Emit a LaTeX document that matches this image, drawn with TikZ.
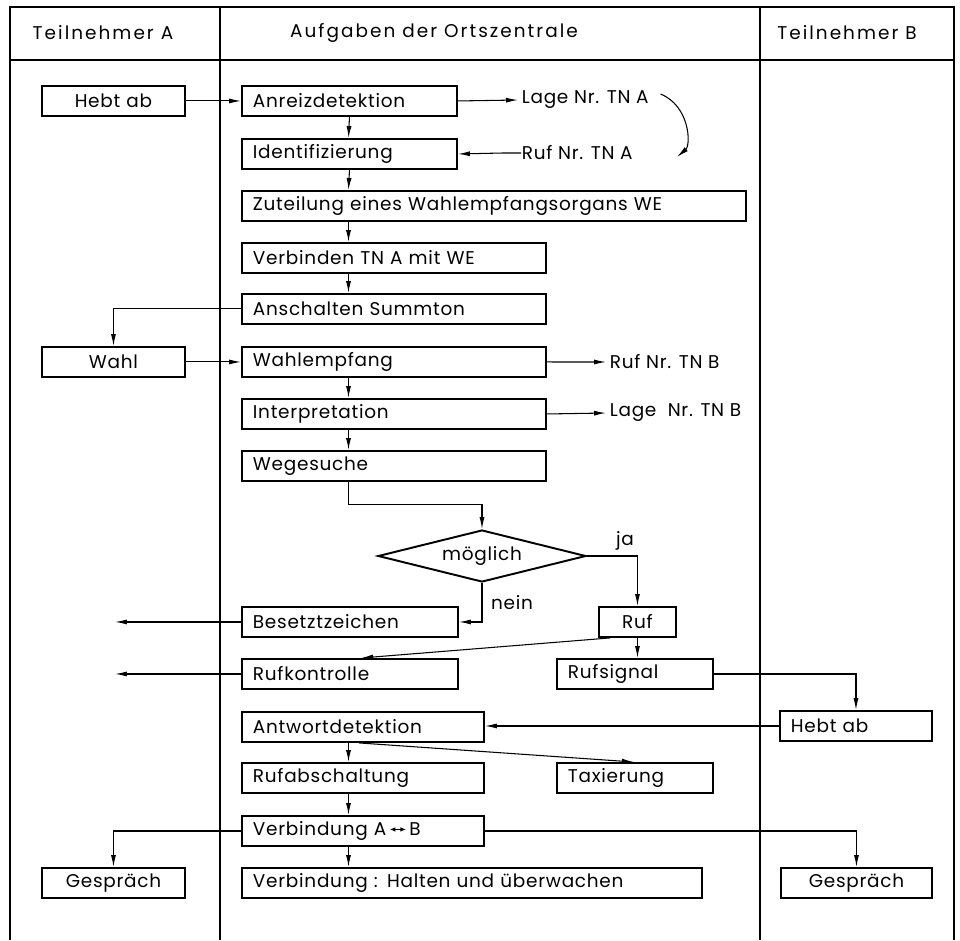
\documentclass[tikz,border=0pt]{standalone}
\usepackage{fontspec}
\setmainfont[LetterSpace=4]{Poppins}
\newfontfamily\headfont[LetterSpace=11]{Poppins}
\usetikzlibrary{arrows.meta,shapes.geometric}

\tikzset{
  box/.style={draw,line width=1.1pt,anchor=north west,minimum height=0.6cm,
    inner xsep=0.22cm,inner ysep=0pt,text width={#1*0.02cm-0.44cm},align=left},
  cbox/.style={box=#1,align=center},
  head/.style={font=\headfont\fontsize{10.5}{12}\selectfont},
  note/.style={anchor=west,inner sep=2pt},
  flow/.style={-{Latex[length=2.4mm,width=1mm]},line width=0.6pt},
  frame/.style={line width=0.9pt},
}
\newcommand{\twoway}{\,\tikz[baseline=-0.6ex]\draw[{Latex[length=1.1mm,width=0.9mm]}-{Latex[length=1.1mm,width=0.9mm]},line width=0.5pt] (0cm,0cm) -- (0.32cm,0cm);\,}

\begin{document}
\begin{tikzpicture}[x=0.02cm,y=-0.02cm,font=\fontsize{10.5}{12}\selectfont]
  \useasboundingbox (0,0) rectangle (960,940);

  % Frame and column heads
  \draw[frame] (10,940) -- (10,7) -- (954,7) -- (954,940);
  \draw[frame] (10,60) -- (954,60);
  \draw[frame] (220,7) -- (220,940);
  \draw[frame] (760,7) -- (760,940);
  \node[head] (hdA) at (103,33) {Teilnehmer A};
  \node[head] (hdZ) at (434,33) {Aufgaben der Ortszentrale};
  \node[head] (hdB) at (847,33) {Teilnehmer B};

  \coordinate (spine) at (348.5,0);
  \coordinate (outA) at (115,0);

  % Teilnehmer A hebt ab
  \node[cbox=143] (hebtA) at (41,85) {Hebt ab};
  \node[box=215] (anreiz) at (241,85) {Anreizdetektion};
  \node[box=215] (ident) at (241,138) {Identifizierung};
  \node[note] (lageA) at (518,100) {Lage Nr. TN A};
  \node[note] (rufA) at (518,153) {Ruf Nr. TN A};
  \node[box=504] (zuteil) at (241,190) {Zuteilung eines Wahlempfangsorgans WE};
  \node[box=304] (verbind) at (241,242) {Verbinden TN A mit WE};
  \node[box=304] (summton) at (241,293) {Anschalten Summton};

  % Wahl
  \node[cbox=143] (wahl) at (41,346) {Wahl};
  \node[box=304] (wahlempf) at (241,346) {Wahlempfang};
  \node[box=304] (interp) at (241,398) {Interpretation};
  \node[box=304] (wege) at (241,450) {Wegesuche};
  \node[note] (rufB) at (606,362) {Ruf Nr. TN B};
  \node[note] (lageB) at (606,413) {Lage\ \ Nr. TN B};

  % Entscheidung
  \node[diamond,draw,line width=1.1pt,minimum width=4.16cm,minimum height=1.04cm,
    aspect=4,inner sep=0pt] (moeglich) at (482,556) {möglich};
  \node (ja) at (625,541) {ja};
  \node (nein) at (512,603) {nein};
  \node[box=216] (besetzt) at (241,606) {Besetztzeichen};
  \node[cbox=77] (ruf) at (598,606) {Ruf};
  \node[box=216] (rufktr) at (241,658) {Rufkontrolle};
  \node[box=156] (rufsig) at (556,658) {Rufsignal};

  % Teilnehmer B antwortet
  \node[box=152] (hebtB) at (779,710) {Hebt ab};
  \node[box=242] (antwort) at (241,711) {Antwortdetektion};
  \node[box=242] (rufab) at (241,762) {Rufabschaltung};
  \node[box=156] (tax) at (556,762) {Taxierung};
  \node[box=242] (verbAB) at (241,815) {Verbindung A\twoway B};
  \node[box=460] (halten) at (241,867) {Verbindung : Halten und überwachen};
  \node[cbox=143] (gespA) at (41,867) {Gespräch};
  \node[cbox=151] (gespB) at (780,867) {Gespräch};

  % Connectors
  \draw[flow] (hebtA) -- (anreiz);
  \draw[flow] (anreiz.east) -- (lageA.west);
  \draw[flow] ([shift={(3,0)}]rufA.west) -- ++(-18,0) -- (ident.east);
  \draw[flow] ([shift={(8,-6)}]lageA.east) .. controls (690,106) and (691,145) .. (677,157);
  \draw[flow] (anreiz.south) -- (spine |- ident.north);
  \draw[flow] (ident.south) -- (spine |- zuteil.north);
  \draw[flow] (spine |- zuteil.south) -- (spine |- verbind.north);
  \draw[flow] (spine |- verbind.south) -- (spine |- summton.north);
  \draw[flow] (summton.west) -| (wahl.north);
  \draw[flow] (wahl.east) -- (wahlempf.west);
  \draw[flow] (wahlempf.east) -- (rufB.west);
  \draw[flow] (interp.east) -- (lageB.west);
  \draw[flow] (spine |- wahlempf.south) -- (spine |- interp.north);
  \draw[flow] (spine |- interp.south) -- (spine |- wege.north);
  \draw[flow] (spine |- wege.south) -- ++(0,23) -| (moeglich.north);
  \draw[flow] (moeglich.east) -| (ruf.north);
  \draw[flow] (moeglich.south) |- (besetzt.east);
  \draw[flow] (besetzt.west) -- (besetzt.west -| outA);
  \draw[flow] (rufktr.west) -- (rufktr.west -| outA);
  \draw[flow] ([shift={(12,0)}]ruf.south west) -- ([shift={(120,0)}]rufktr.north west);
  \draw[flow] (ruf.south) -- (ruf.south |- rufsig.north);
  \draw[flow] (rufsig.east) -| (hebtB.north);
  \draw[flow] (hebtB.west) -- (hebtB.west -| antwort.east);
  \draw[flow] (spine |- antwort.south) -- (spine |- rufab.north);
  \draw[flow] ([shift={(118,0)}]antwort.south west) -- ([shift={(78,0)}]tax.north west);
  \draw[flow] (spine |- rufab.south) -- (spine |- verbAB.north);
  \draw[flow] (spine |- verbAB.south) -- (spine |- halten.north);
  \draw[flow] (verbAB.west) -| (gespA.north);
  \draw[flow] (verbAB.east) -| (gespB.north);

\end{tikzpicture}
\end{document}
